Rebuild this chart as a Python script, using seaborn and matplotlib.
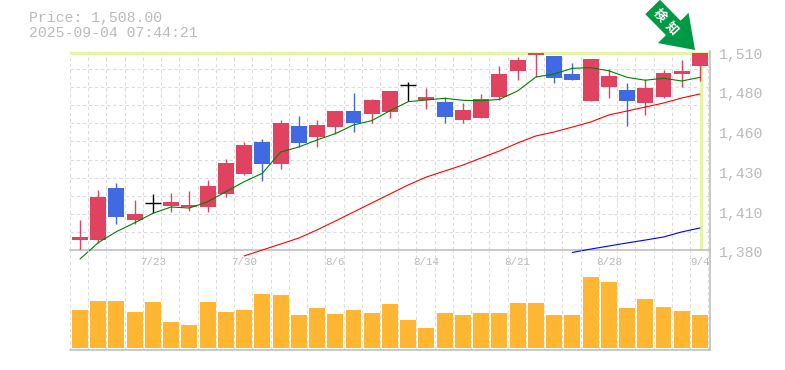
import numpy as np
import matplotlib
matplotlib.use("Agg")
import matplotlib.pyplot as plt
import matplotlib.transforms as mtrans
import seaborn as sns

# values
opens = [1386.5, 1386.5, 1420.5, 1399.6, 1410.7, 1408.7, 1408.1, 1408.1, 1416.6, 1429.6, 1450.5, 1436.2,
         1461.0, 1453.8, 1460.3, 1470.8, 1468.8, 1470.1, 1487.8, 1478.0, 1476.7, 1464.9, 1466.2, 1480.0,
         1496.9, 1507.4, 1506.7, 1495.0, 1477.3, 1486.5, 1484.5, 1476.0, 1480.0, 1495.0, 1500.2]
closes = [1388.5, 1414.6, 1401.6, 1403.5, 1410.7, 1411.4, 1409.4, 1421.8, 1436.8, 1448.6, 1436.2, 1463.0,
          1449.9, 1461.7, 1470.8, 1463.0, 1478.0, 1483.9, 1487.8, 1480.0, 1466.9, 1471.5, 1478.6, 1495.0,
          1504.1, 1508.7, 1492.4, 1491.1, 1504.8, 1493.7, 1477.3, 1485.8, 1495.6, 1496.9, 1508.7]
highs = [1399.6, 1419.2, 1423.8, 1412.7, 1416.6, 1417.2, 1418.5, 1425.7, 1439.4, 1450.5, 1452.5, 1464.9,
         1467.5, 1464.9, 1470.8, 1482.6, 1478.6, 1483.9, 1489.7, 1485.8, 1480.0, 1476.0, 1481.9, 1500.2,
         1506.1, 1508.7, 1506.7, 1502.2, 1504.8, 1498.2, 1489.1, 1491.7, 1497.6, 1504.1, 1508.7]
lows = [1379.5, 1384.8, 1397.0, 1397.0, 1404.0, 1404.8, 1405.5, 1404.8, 1414.6, 1429.0, 1425.1, 1432.9,
        1447.3, 1447.3, 1455.8, 1457.1, 1463.0, 1466.2, 1477.3, 1472.1, 1463.0, 1463.0, 1466.2, 1478.0,
        1491.1, 1493.0, 1489.1, 1491.1, 1477.3, 1479.3, 1461.0, 1468.2, 1479.3, 1486.5, 1490.4]
ma_short = [1374.1, 1384.8, 1392.0, 1397.8, 1404.0, 1408.1, 1407.4, 1411.5, 1418.1, 1424.6, 1430.1, 1444.0,
            1447.3, 1451.9, 1456.0, 1461.7, 1464.5, 1471.0, 1476.9, 1478.0, 1479.1, 1477.8, 1477.5, 1478.4,
            1483.9, 1493.0, 1495.0, 1498.7, 1499.1, 1497.1, 1492.8, 1490.9, 1492.2, 1490.4, 1492.8]
ma_mid = [1376.1, 1380.0, 1383.9, 1387.8, 1393.1, 1398.9, 1404.8, 1410.7, 1416.6, 1422.5, 1427.7, 1431.6,
          1435.5, 1440.1, 1444.7, 1449.9, 1454.5, 1457.1, 1460.3, 1463.6, 1468.2, 1470.8, 1473.4, 1476.0,
          1479.3, 1481.9]
ma_long = [1378.4, 1380.6, 1382.6, 1384.6, 1386.5, 1388.5, 1391.8, 1394.4]
volume = [37.7, 46.7, 46.7, 35.7, 45.7, 25.7, 22.7, 45.7, 35.7, 37.7, 53.7, 52.7, 32.7, 39.7, 33.7, 37.7, 34.7, 43.7,
          27.7, 19.7, 34.7, 32.7, 34.7, 34.7, 44.7, 44.7, 32.7, 32.7, 70.7, 65.7, 39.7, 48.7, 40.7, 36.7, 32.7]
date_pos = [4, 9, 14, 19, 24, 29, 34]
date_labels = ["7/23", "7/30", "8/6", "8/14", "8/21", "8/28", "9/4"]
price_ticks = [1510, 1484, 1458, 1432, 1406, 1380]
price_labels = ["1,510", "1,480", "1,460", "1,430", "1,410", "1,380"]
last_price = 1508.4

RED = "#e0435f"
BLUE = "#4169e1"
GREY = "#bbbbbb"
GRID = "#dcdcdc"
BAND = "#e6f5a3"
ORANGE = "#ffb733"
MONO = "Liberation Mono"

sns.set_style("white")
fig = plt.figure(figsize=(7.85, 3.7), dpi=100)
W, H = 785, 370
ax = fig.add_axes([70 / W, 1 - 250 / H, 640 / W, 199 / H])
ax_vol = fig.add_axes([70 / W, 1 - 349.7 / H, 640 / W, 99.7 / H])

idx = np.arange(len(opens))
grid_x = np.arange(36) - 0.548

for a in (ax, ax_vol):
    a.set_xlim(-0.548, 34.55)
    a.set_xticks(grid_x, minor=True)
    a.set_xticks([])
    a.grid(True, which="minor", axis="x", color=GRID, lw=0.8, ls=(0, (3, 2.5)))
    a.set_axisbelow(True)
    a.patch.set_alpha(0)
    for s in ("top", "left"):
        a.spines[s].set_visible(False)
    a.spines["right"].set_color(GREY)
    a.spines["right"].set_linewidth(1.1)
    a.spines["bottom"].set_color(GREY)
    a.spines["bottom"].set_linewidth(1.1)
    a.tick_params(which="both", length=0)

# price panel
ax.set_ylim(1380, 1510)
ax.set_yticks(np.linspace(1380, 1510, 12), minor=True)
ax.grid(True, which="minor", axis="y", color=GRID, lw=0.8, ls=(0, (3, 2.5)))
ax.yaxis.tick_right()
ax.set_yticks(price_ticks, price_labels)
ax.tick_params(axis="y", which="major", pad=6.5, labelsize=10.7, labelcolor=GREY)
shift = mtrans.ScaledTranslation(0, -2.0 / 100, fig.dpi_scale_trans)
for lab in ax.get_yticklabels():
    lab.set_family(MONO)
    lab.set_transform(lab.get_transform() + shift)

ax.axhline(last_price, color=BAND, lw=2.3, zorder=1.5)
ax.vlines(idx[-1] + 0.08, 1380, last_price, color=BAND, lw=2.3, zorder=1.5)

colors = []
for o, c in zip(opens, closes):
    if c > o:
        colors.append(RED)
    elif c < o:
        colors.append(BLUE)
    else:
        colors.append("black")

ax.vlines(idx, lows, highs, colors=colors, lw=1.0, zorder=3)
bodies = np.array(closes) - np.array(opens)
ax.bar(idx, bodies, bottom=opens, width=0.875, color=colors, lw=0, zorder=3)
# doji days get a flat line instead of a body
for i in idx[bodies == 0]:
    ax.hlines(opens[i], i - 0.44, i + 0.44, color="black", lw=1.0, zorder=3)

sns.lineplot(x=idx, y=ma_short, color="#008000", lw=0.8, ax=ax, clip_on=False, zorder=4)
sns.lineplot(x=idx[-len(ma_mid):], y=ma_mid, color="#ff0000", lw=0.8, ax=ax, clip_on=False, zorder=4)
sns.lineplot(x=idx[-len(ma_long):], y=ma_long, color="#0000ff", lw=0.8, ax=ax, clip_on=False, zorder=4)

# volume panel
sns.barplot(x=idx, y=volume, native_scale=True, color=ORANGE, saturation=1, width=0.875, lw=0, ax=ax_vol, zorder=3)
ax_vol.set_xlim(-0.548, 34.55)
ax_vol.set_ylim(-2, 97.7)
ax_vol.set_yticks([])
ax_vol.set_ylabel("")
for p, lab in zip(date_pos, date_labels):
    ax_vol.text(p, 85.7, lab, ha="center", va="center", family=MONO, fontsize=7.8, color=GREY, zorder=5)

# header text
fig.text(29 / W, 1 - 18 / H, "Price: 1,508.00", family=MONO, fontsize=10.7, color=GREY, va="center")
fig.text(29 / W, 1 - 33 / H, "2025-09-04 07:44:21", family=MONO, fontsize=10.7, color=GREY, va="center")

# green marker arrow pointing at the last candle
ax.annotate("", xy=(695, H - 50), xytext=(652.6, H - 7), xycoords="figure pixels", textcoords="figure pixels",
            arrowprops=dict(width=14.8, headwidth=31, headlength=22.3, shrink=0, color="#009944", lw=0),
            annotation_clip=False, zorder=6)
for ch, px, py in [("検", 659, 15), ("知", 672, 28)]:
    fig.text(px / W, 1 - py / H, ch, family=["Noto Sans CJK JP", "DejaVu Sans"], fontsize=9, fontweight="bold",
             color="white", rotation=-47, rotation_mode="anchor", ha="center", va="center", zorder=7)

plt.savefig("out.png", dpi=100)
plt.close()
